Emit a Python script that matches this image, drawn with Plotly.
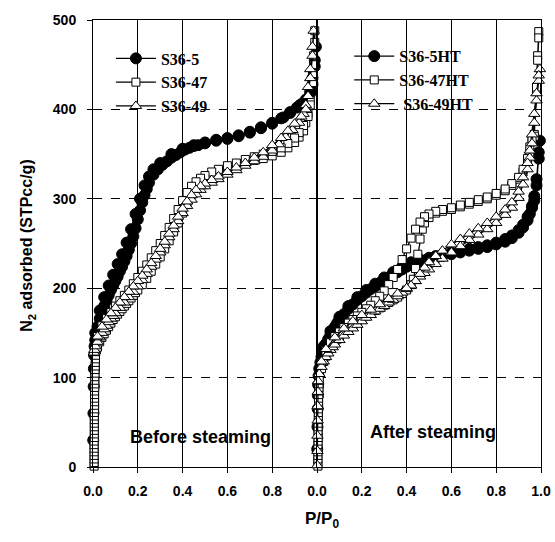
import plotly.graph_objects as go

# ---------------- data (P/P0, N2 adsorbed STPcc/g) ----------------
# Before steaming
s36_5_x = [0.001,0.002,0.003,0.004,0.005,0.007,0.01,0.015,0.02,0.03,0.04,0.05,0.06,0.07,0.08,0.09,0.10,
           0.11,0.12,0.13,0.14,0.15,0.16,0.17,0.18,0.19,0.20,0.21,0.22,0.23,0.24,0.25,0.27,0.29,0.31,0.33,
           0.35,0.37,0.39,0.41,0.43,0.45,0.47,0.50,0.55,0.60,0.65,0.70,0.75,0.80,0.85,0.88,0.91,0.93,0.95,
           0.97,0.98,0.99,0.995,
           0.99,0.98,0.97,0.95,0.92,0.88,0.84,0.80,0.75,0.70,0.65,0.60,0.55,0.50,0.45,0.40,0.35,0.30,0.27,
           0.25,0.23,0.21,0.19,0.17,0.15,0.13,0.11,0.09,0.07,0.05,0.03,0.01]
s36_5_y = [30,60,90,110,125,135,142,150,157,166,173,180,186,192,198,203,208,
           213,219,224,230,236,243,250,258,267,277,287,296,304,311,318,327,333,338,342,
           346,349,352,355,357,359,360,362,365,367,370,374,379,384,391,396,402,406,410,
           418,428,448,470,
           455,435,420,411,404,397,390,385,380,375,371,368,366,363,360,356,350,340,333,
           325,315,300,283,266,251,238,227,215,203,190,175,150]

s36_47_x = [0.005,0.005,0.005,0.005,0.005,0.005,0.005,0.005,0.006,0.006,0.006,0.006,0.006,0.006,0.006,0.006,
            0.007,0.007,0.007,0.007,0.007,0.007,0.008,0.008,0.008,0.008,0.009,0.009,0.010,0.010,0.011,0.011,
            0.012,0.015,0.02,0.03,0.04,0.05,0.06,0.07,0.08,0.09,0.10,0.11,0.12,0.13,0.14,0.15,0.16,0.17,0.18,
            0.19,0.20,0.22,0.24,0.26,0.28,0.30,0.32,0.34,0.36,0.38,0.40,0.42,0.44,0.46,0.48,0.50,0.53,0.56,
            0.60,0.64,0.68,0.72,0.76,0.80,0.84,0.87,0.90,0.92,0.94,0.95,0.96,0.97,0.98,0.985,0.99,
            0.99,0.985,0.98,0.97,0.96,0.94,0.92,0.90,0.87,0.84,0.80,0.76,0.72,0.68,0.64,0.60,0.56,0.53,0.50,
            0.48,0.46,0.44,0.42,0.40,0.38,0.36,0.34,0.32,0.30,0.28,0.26,0.24,0.22,0.20,0.18,0.16,0.14,0.12,
            0.10,0.08,0.06,0.04,0.02]
s36_47_y = [1,5,9,13,17,21,25,29,33,37,41,45,49,53,57,61,
            65,69,73,77,81,85,89,93,97,101,105,109,113,117,121,125,
            129,131,134,140,145,149,153,157,161,165,168,171,174,177,180,183,186,189,192,
            195,198,204,211,219,227,235,244,253,263,273,284,295,305,312,317,320,324,328,
            332,336,340,343,345,348,352,357,363,369,376,385,395,410,440,460,488,
            475,450,430,405,392,382,374,368,362,357,353,350,347,344,340,337,333,330,326,
            323,319,314,307,298,288,278,268,259,250,242,234,226,219,212,205,198,192,186,
            180,173,166,158,146]

s36_49_x = [0.004,0.006,0.01,0.02,0.03,0.04,0.05,0.06,0.07,0.08,0.09,0.10,0.12,0.14,0.16,0.18,0.20,0.22,
            0.24,0.26,0.28,0.30,0.32,0.34,0.36,0.38,0.40,0.42,0.44,0.46,0.48,0.50,0.53,0.56,0.60,0.64,
            0.68,0.72,0.76,0.80,0.83,0.86,0.89,0.92,0.94,0.95,0.96,0.97,0.98,0.985,
            0.98,0.97,0.96,0.95,0.93,0.90,0.87,0.84,0.80,0.76,0.72,0.68,0.64,0.60,0.56,0.53,0.50,0.48,
            0.46,0.44,0.42,0.40,0.38,0.36,0.34,0.32,0.30,0.28,0.26,0.24,0.22,0.20,0.18,0.16,0.14,0.12,
            0.10,0.08,0.06,0.04,0.02]
s36_49_y = [128,131,135,140,145,150,154,158,162,166,169,172,178,184,190,196,202,209,
            216,224,232,240,248,257,266,275,284,292,299,305,310,314,318,322,327,332,
            337,342,347,354,361,369,377,385,395,405,425,445,470,488,
            460,435,415,400,392,384,376,368,360,352,346,340,335,330,325,321,317,314,
            310,304,297,289,280,270,261,252,244,236,228,221,214,208,202,196,190,184,
            178,172,165,157,146]

# After steaming
s36_5ht_x = [0.001,0.002,0.003,0.004,0.005,0.007,0.01,0.015,0.02,0.03,0.04,0.05,0.06,0.07,0.08,0.09,0.10,
             0.12,0.14,0.16,0.18,0.20,0.22,0.24,0.26,0.28,0.30,0.32,0.34,0.36,0.38,0.40,0.42,0.44,0.46,
             0.48,0.50,0.53,0.56,0.60,0.64,0.68,0.72,0.76,0.80,0.84,0.87,0.90,0.92,0.94,0.95,0.96,0.97,
             0.98,0.99,0.995,
             0.99,0.98,0.97,0.96,0.94,0.92,0.90,0.87,0.84,0.80,0.76,0.72,0.68,0.64,0.60,0.56,0.53,0.50,
             0.46,0.42,0.38,0.34,0.30,0.26,0.22,0.18,0.14,0.10,0.06,0.03]
s36_5ht_y = [20,45,65,80,92,102,110,117,123,131,138,143,148,153,157,161,165,
             171,177,182,187,191,195,199,202,206,209,212,215,218,221,224,226,228,230,
             231,232,234,236,238,240,242,244,246,249,252,256,262,268,276,283,290,298,
             315,345,365,
             352,322,303,292,280,271,265,259,255,251,248,246,244,242,240,238,236,234,
             232,229,224,218,212,205,198,190,180,168,152,135]

s36_47ht_x = [0.004,0.004,0.004,0.004,0.004,0.004,0.004,0.005,0.005,0.005,0.005,0.005,0.005,0.006,0.006,
              0.006,0.006,0.007,0.007,0.007,0.008,0.008,0.009,0.009,0.010,
              0.02,0.03,0.04,0.05,0.06,0.07,0.08,0.09,0.10,0.12,0.14,0.16,0.18,0.20,0.22,0.24,0.26,0.28,
              0.30,0.32,0.34,0.36,0.38,0.40,0.42,0.43,0.44,0.45,0.46,0.47,0.48,0.50,0.53,0.56,0.60,0.64,
              0.68,0.72,0.76,0.80,0.84,0.87,0.90,0.92,0.94,0.95,0.96,0.97,0.98,0.985,0.99,
              0.99,0.985,0.98,0.97,0.96,0.95,0.94,0.92,0.90,0.87,0.84,0.80,0.76,0.72,0.68,0.64,0.60,0.56,
              0.53,0.50,0.48,0.46,0.44,0.42,0.40,0.38,0.36,0.34,0.32,0.30,0.28,0.26,0.24,0.22,0.20,0.18,
              0.16,0.14,0.12,0.10,0.08,0.06,0.04,0.02]
s36_47ht_y = [1,5,9,13,17,21,25,29,33,37,41,45,49,53,57,
              61,65,69,73,77,81,85,89,93,97,
              110,118,124,129,133,137,140,143,146,150,154,158,162,166,169,172,175,178,
              181,184,187,190,194,198,204,210,222,238,255,266,273,279,284,286,288,291,
              294,297,300,304,309,315,322,330,342,352,365,372,420,460,487,
              480,455,425,370,366,358,345,333,324,317,311,306,302,299,296,293,290,288,
              286,283,280,274,266,256,244,232,221,212,204,197,191,186,181,177,173,169,
              165,161,156,151,146,139,130,116]

s36_49ht_x = [0.001,0.002,0.002,0.003,0.003,0.004,0.005,
              0.01,0.02,0.03,0.04,0.05,0.06,0.07,0.08,0.10,0.12,0.14,0.16,0.18,0.20,0.22,0.24,0.26,0.28,
              0.30,0.32,0.34,0.36,0.38,0.40,0.42,0.44,0.46,0.48,0.50,0.53,0.56,0.60,0.64,0.68,0.72,0.76,
              0.80,0.84,0.87,0.90,0.92,0.94,0.95,0.96,0.97,0.98,0.99,0.995,
              0.99,0.98,0.97,0.96,0.95,0.94,0.92,0.90,0.87,0.84,0.80,0.76,0.72,0.68,0.64,0.60,0.56,0.53,
              0.50,0.48,0.46,0.44,0.42,0.40,0.36,0.32,0.28,0.24,0.20,0.16,0.12,0.08,0.04,0.02]
s36_49ht_y = [2,18,35,52,68,84,96,
              104,112,118,123,127,131,134,137,142,147,151,155,159,163,167,170,174,177,
              180,184,187,191,195,199,203,208,213,217,221,227,233,240,247,254,260,266,
              273,282,290,301,316,333,346,362,385,410,432,445,
              438,418,395,372,354,340,324,308,296,288,280,273,267,261,255,249,242,236,
              229,223,216,208,203,200,194,188,182,176,170,163,155,145,132,118]

x_ticks_left = [0, 0.2, 0.4, 0.6, 0.8]
x_ticks_right = [0, 0.2, 0.4, 0.6, 0.8, 1.0]
y_ticks = [0, 100, 200, 300, 400, 500]

# ---------------- figure ----------------
fig = go.Figure()

def add(x, y, name, symbol, fill, size, xa, ya, legend):
    fig.add_trace(go.Scatter(
        x=x, y=y, name=name, mode="lines+markers", xaxis=xa, yaxis=ya, legend=legend,
        cliponaxis=False,
        line=dict(color="black", width=1.3),
        marker=dict(symbol=symbol, size=size, color=fill, line=dict(color="black", width=1)),
    ))

add(s36_5_x, s36_5_y, "S36-5", "circle", "black", 11, "x", "y", "legend")
add(s36_47_x, s36_47_y, "S36-47", "square", "white", 8, "x", "y", "legend")
add(s36_49_x, s36_49_y, "S36-49", "triangle-up", "white", 10, "x", "y", "legend")

add(s36_5ht_x, s36_5ht_y, "S36-5HT", "circle", "black", 11, "x2", "y2", "legend2")
add(s36_47ht_x, s36_47ht_y, "S36-47HT", "square", "white", 8, "x2", "y2", "legend2")
add(s36_49ht_x, s36_49ht_y, " S36-49HT", "triangle-up", "white", 10, "x2", "y2", "legend2")

tickfont = dict(family="Liberation Sans, Arial", size=14, color="black", weight="bold")
xcommon = dict(range=[0, 1], showline=True, linecolor="black", linewidth=1, mirror=True,
               ticks="outside", ticklen=5, tickcolor="black", tickwidth=1,
               showgrid=True, gridcolor="black", gridwidth=1, zeroline=False, automargin=False,
               tickfont=tickfont, ticklabelstandoff=6)
ycommon = dict(range=[0, 500], showline=True, linecolor="black", linewidth=1, mirror=True,
               showgrid=True, gridcolor="black", gridwidth=1, griddash="dash", zeroline=False,
               automargin=False, tickvals=y_ticks)

legfont = dict(family="Liberation Serif, Times New Roman", size=16, color="black", weight="bold")

fig.update_layout(
    width=555, height=542,
    autosize=False,
    margin=dict(l=93, r=14, t=20, b=75, autoexpand=False),
    paper_bgcolor="white", plot_bgcolor="white",
    xaxis=dict(domain=[0, 0.5], anchor="y", tickvals=x_ticks_left,
               ticktext=[f"{v:.1f}" for v in x_ticks_left], **xcommon),
    xaxis2=dict(domain=[0.5, 1], anchor="y2", tickvals=x_ticks_right,
                ticktext=[f"{v:.1f}" for v in x_ticks_right], **xcommon),
    yaxis=dict(anchor="x", ticks="outside", ticklen=5, tickcolor="black",
               tickfont=tickfont, ticklabelstandoff=8, **ycommon),
    yaxis2=dict(anchor="x2", matches="y", showticklabels=False, ticks="", **ycommon),
    legend=dict(x=0.04, y=0.952, xanchor="left", yanchor="top", bgcolor="rgba(0,0,0,0)",
                font=legfont, tracegroupgap=0, itemwidth=40),
    legend2=dict(x=0.572, y=0.957, xanchor="left", yanchor="top", bgcolor="rgba(0,0,0,0)",
                 font=legfont, tracegroupgap=0, itemwidth=40),
    showlegend=True,
)

afont = dict(family="Liberation Sans, Arial", size=18, color="black", weight="bold")
fig.add_annotation(x=0.478, y=34, xref="x", yref="y", text="Before steaming",
                   showarrow=False, font=afont, xanchor="center", yanchor="middle")
fig.add_annotation(x=0.52, y=39, xref="x2", yref="y2", text="After steaming",
                   showarrow=False, font=afont, xanchor="center", yanchor="middle")

tfont = dict(family="Liberation Sans, Arial", size=16, color="black", weight="bold")
fig.add_annotation(x=-0.145, y=0.495, xref="paper", yref="paper", textangle=-90,
                   xanchor="center", yanchor="middle",
                   text="N<sub>2</sub> adsorbed (STPcc/g)", showarrow=False, font=tfont)
fig.add_annotation(x=0.511, y=-0.119, xref="paper", yref="paper", xanchor="center", yanchor="middle",
                   text="P/P<sub>0</sub>", showarrow=False,
                   font=dict(family="Liberation Sans, Arial", size=17, color="black", weight="bold"))

fig.write_html("out.html")
